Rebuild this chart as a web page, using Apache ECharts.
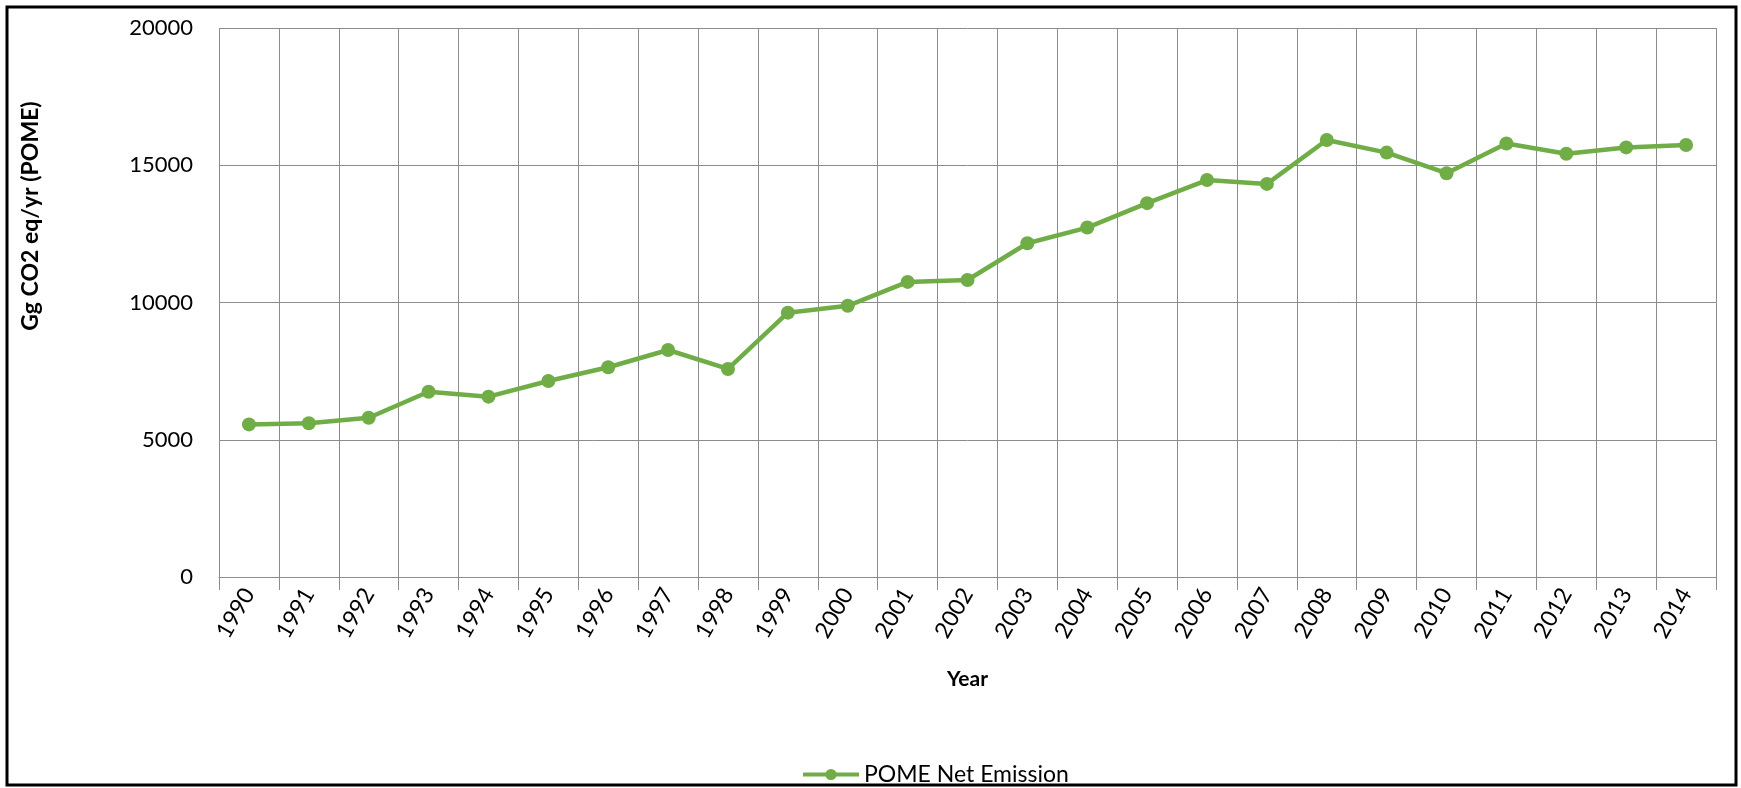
<!DOCTYPE html>
<html>
<head>
<meta charset="utf-8">
<script src="https://cdn.jsdelivr.net/npm/echarts@6/dist/echarts.min.js"></script>
<style>
html,body{margin:0;padding:0;background:#fff;}
#chart{width:1741px;height:788px;}
</style>
</head>
<body>
<div id="chart"></div>
<script>
const years = ['1990','1991','1992','1993','1994','1995','1996','1997','1998','1999','2000','2001','2002','2003','2004','2005','2006','2007','2008','2009','2010','2011','2012','2013','2014'];
const pomeNetEmission = [5560,5600,5800,6750,6570,7140,7640,8270,7580,9630,9880,10750,10820,12160,12730,13620,14460,14320,15920,15460,14710,15790,15420,15650,15740];
const yTicks = [0,5000,10000,15000,20000];
const seriesName = 'POME Net Emission';
const xAxisTitle = 'Year';
const yAxisTitle = 'Gg CO2 eq/yr (POME)';

const FONT = 'Lato, "Liberation Sans", sans-serif';
const GREEN = '#70AD47';
const GRID = '#8c8c8c';

const chart = echarts.init(document.getElementById('chart'));
chart.setOption({
  backgroundColor: '#fff',
  animation: false,
  grid: { left: 219, right: 25, top: 28, bottom: 211, containLabel: false },
  legend: {
    data: [seriesName],
    left: 796, top: 758,
    itemWidth: 56, itemHeight: 14, itemGap: 4,
    lineStyle: { width: 4, color: GREEN },
    itemStyle: { color: GREEN },
    textStyle: { fontFamily: FONT, fontSize: 23, color: '#000' }
  },
  xAxis: {
    type: 'category',
    data: years,
    boundaryGap: true,
    name: xAxisTitle,
    nameLocation: 'middle',
    nameGap: 92,
    nameTextStyle: { fontFamily: FONT, fontSize: 21, fontWeight: 'bold', color: '#000' },
    axisLine: { show: true, lineStyle: { color: GRID, width: 1 } },
    axisTick: { show: true, length: 13, lineStyle: { color: GRID, width: 1 } },
    axisLabel: { rotate: 60, margin: 13, fontFamily: FONT, fontSize: 23, color: '#000', interval: 0 },
    splitLine: { show: true, interval: 0, lineStyle: { color: GRID, width: 1 } }
  },
  yAxis: {
    type: 'value',
    min: yTicks[0], max: yTicks[yTicks.length - 1], interval: 5000,
    axisLine: { show: false },
    axisTick: { show: false },
    axisLabel: { margin: 26, fontFamily: FONT, fontSize: 22, color: '#000', formatter: function (v) { return String(v); } },
    splitLine: { show: true, lineStyle: { color: GRID, width: 1 } }
  },
  graphic: [
    {
      type: 'rect',
      shape: { x: 7, y: 7, width: 1729, height: 778 },
      style: { fill: 'none', stroke: '#000', lineWidth: 3 },
      silent: true, z: 100
    },
    {
      type: 'text',
      x: 31, y: 216, rotation: Math.PI / 2,
      style: { text: yAxisTitle, fontFamily: FONT, fontSize: 23, fontWeight: 'bold', fill: '#000', align: 'center', verticalAlign: 'middle' }
    }
  ],
  series: [{
    name: seriesName,
    type: 'line',
    data: pomeNetEmission,
    symbol: 'circle',
    symbolSize: 14,
    lineStyle: { color: GREEN, width: 4.5 },
    itemStyle: { color: GREEN }
  }]
});
</script>
</body>
</html>
